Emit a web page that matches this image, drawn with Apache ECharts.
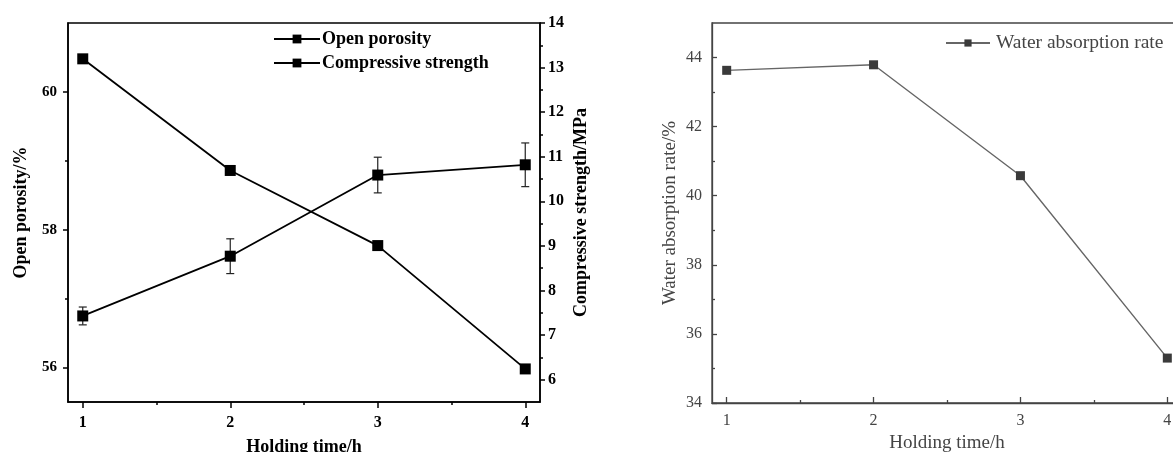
<!DOCTYPE html>
<html><head><meta charset="utf-8">
<script src="https://cdn.jsdelivr.net/npm/echarts@6/dist/echarts.min.js"></script>
<style>html,body{margin:0;padding:0;background:#fff}#c{width:1173px;height:452px}</style>
</head><body><div id="c"></div>
<script>
// ---- data ----
const holdingTime = [1, 2, 3, 4];
const openPorosity = [60.48, 58.86, 57.77, 55.98];
const compressiveStrength = [7.43, 8.77, 10.59, 10.82];
const compressiveError = [0.20, 0.39, 0.40, 0.49];
const waterAbsorption = [43.63, 43.79, 40.58, 35.30];

// ---- tick labels ----
const xMajorTicks = [1, 2, 3, 4];
const xMinorTicks = [1.5, 2.5, 3.5];
const porosityTicks = [56, 58, 60];
const porosityMinorTicks = [57, 59];
const strengthTicks = [6, 7, 8, 9, 10, 11, 12, 13, 14];
const strengthMinorTicks = [6.5, 7.5, 8.5, 9.5, 10.5, 11.5, 12.5, 13.5];
const waterTicks = [34, 36, 38, 40, 42, 44];
const waterMinorTicks = [35, 37, 39, 41, 43];

const SERIF = 'Liberation Serif';
const BLK = '#000';
const GRY = '#444';

function axis(o) {
  const color = o.color;
  const a = {
    type: 'value', gridIndex: o.grid, position: o.position,
    min: o.min, max: o.max,
    axisLine: { show: !o.minor, onZero: false, lineStyle: { color: color, width: o.lw || 1.5 } },
    axisTick: { show: true, inside: !!o.inside, length: o.tickLen, customValues: o.ticks,
      lineStyle: { color: color, width: o.lw || 1.5 } },
    axisLabel: o.minor ? { show: false } : {
      show: true, customValues: o.ticks, color: color, fontFamily: SERIF,
      fontWeight: o.bold ? 'bold' : 'normal', fontSize: o.fs || 15, margin: o.margin || 8
    },
    splitLine: { show: false }
  };
  if (o.name) {
    a.name = o.name; a.nameLocation = 'middle'; a.nameGap = o.nameGap;
    a.nameTextStyle = { color: color, fontFamily: SERIF, fontWeight: o.bold ? 'bold' : 'normal', fontSize: o.nameSize || 16 };
  }
  return a;
}

const xAxes = [
  axis({ grid: 0, position: 'bottom', min: 0.9, max: 4.1, ticks: xMajorTicks, tickLen: 6, color: BLK, bold: true, fs: 16,
         name: 'Holding time/h', nameGap: 36, nameSize: 18, margin: 13 }),
  axis({ grid: 0, position: 'bottom', min: 0.9, max: 4.1, ticks: xMinorTicks, tickLen: 3, color: BLK, minor: true }),
  axis({ grid: 1, position: 'bottom', min: 0.9, max: 4.1, ticks: xMajorTicks, tickLen: 6, inside: true, color: GRY, lw: 1.3,
         name: 'Holding time/h', nameGap: 30, nameSize: 19, fs: 16, margin: 10 }),
  axis({ grid: 1, position: 'bottom', min: 0.9, max: 4.1, ticks: xMinorTicks, tickLen: 3, inside: true, color: GRY, lw: 1.3, minor: true })
];
const yAxes = [
  axis({ grid: 0, position: 'left', min: 55.5, max: 61, ticks: porosityTicks, tickLen: 5, color: BLK, bold: true, fs: 15,
         name: 'Open porosity/%', nameGap: 38, nameSize: 18, margin: 11 }),
  axis({ grid: 0, position: 'right', min: 5.5, max: 14, ticks: strengthTicks, tickLen: 5, color: BLK, bold: true, fs: 16,
         name: 'Compressive strength/MPa', nameGap: 32, nameSize: 18 }),
  axis({ grid: 0, position: 'left', min: 55.5, max: 61, ticks: porosityMinorTicks, tickLen: 3, color: BLK, minor: true }),
  axis({ grid: 0, position: 'right', min: 5.5, max: 14, ticks: strengthMinorTicks, tickLen: 3, color: BLK, minor: true }),
  axis({ grid: 1, position: 'left', min: 34, max: 45, ticks: waterTicks, tickLen: 5, inside: true, color: GRY, lw: 1.3,
         name: 'Water absorption rate/%', nameGap: 32, nameSize: 19, fs: 16, margin: 10 }),
  axis({ grid: 1, position: 'left', min: 34, max: 45, ticks: waterMinorTicks, tickLen: 3, inside: true, color: GRY, lw: 1.3, minor: true })
];

const pair = (xs, ys) => xs.map((x, i) => [x, ys[i]]);
const errData = holdingTime.map((x, i) => [x, compressiveStrength[i] - compressiveError[i], compressiveStrength[i] + compressiveError[i]]);

const option = {
  animation: false,
  backgroundColor: '#fff',
  grid: [
    { left: 68, top: 23, width: 472, height: 379, outerBoundsMode: 'none', containLabel: false,
      show: true, borderColor: BLK, borderWidth: 1.5, backgroundColor: 'transparent' },
    { left: 712, top: 23, width: 470, height: 380, outerBoundsMode: 'none', containLabel: false,
      show: true, borderColor: GRY, borderWidth: 1.3, backgroundColor: 'transparent' }
  ],
  xAxis: xAxes,
  yAxis: yAxes,
  legend: [
    { data: ['Open porosity', 'Compressive strength'], orient: 'vertical', left: 273, top: 30, padding: 0,
      itemWidth: 46, itemHeight: 11, itemGap: 6,
      textStyle: { fontFamily: SERIF, fontWeight: 'bold', fontSize: 18, color: BLK, padding: [0, 0, 0, -3] } },
    { data: ['Water absorption rate'], left: 945, top: 33, padding: 0, itemWidth: 44, itemHeight: 9,
      textStyle: { fontFamily: SERIF, fontSize: 19.5, color: GRY, padding: [0, 0, 0, 1] } }
  ],
  series: [
    { name: 'Open porosity', type: 'line', xAxisIndex: 0, yAxisIndex: 0, data: pair(holdingTime, openPorosity),
      symbol: 'rect', symbolSize: 11, lineStyle: { color: BLK, width: 1.8 }, itemStyle: { color: BLK }, z: 3 },
    { name: 'Compressive strength', type: 'line', xAxisIndex: 0, yAxisIndex: 1, data: pair(holdingTime, compressiveStrength),
      symbol: 'rect', symbolSize: 11, lineStyle: { color: BLK, width: 1.8 }, itemStyle: { color: BLK }, z: 3 },
    { name: 'err', type: 'custom', xAxisIndex: 0, yAxisIndex: 1, data: errData, z: 2,
      encode: { x: 0, y: [1, 2] },
      renderItem: function (params, api) {
        const x = api.value(0), lo = api.value(1), hi = api.value(2);
        const p1 = api.coord([x, hi]), p2 = api.coord([x, lo]);
        const w = 4, st = { stroke: '#222', lineWidth: 1.2 };
        return { type: 'group', children: [
          { type: 'line', shape: { x1: p1[0], y1: p1[1], x2: p2[0], y2: p2[1] }, style: st },
          { type: 'line', shape: { x1: p1[0] - w, y1: p1[1], x2: p1[0] + w, y2: p1[1] }, style: st },
          { type: 'line', shape: { x1: p2[0] - w, y1: p2[1], x2: p2[0] + w, y2: p2[1] }, style: st }
        ] };
      } },
    { name: 'Water absorption rate', type: 'line', xAxisIndex: 2, yAxisIndex: 4, data: pair(holdingTime, waterAbsorption),
      symbol: 'rect', symbolSize: 9, lineStyle: { color: '#666', width: 1.4 }, itemStyle: { color: '#3a3a3a' }, z: 3 }
  ]
};
const chart = echarts.init(document.getElementById('c'), null, { renderer: 'canvas' });
chart.setOption(option);
</script>
</body></html>
